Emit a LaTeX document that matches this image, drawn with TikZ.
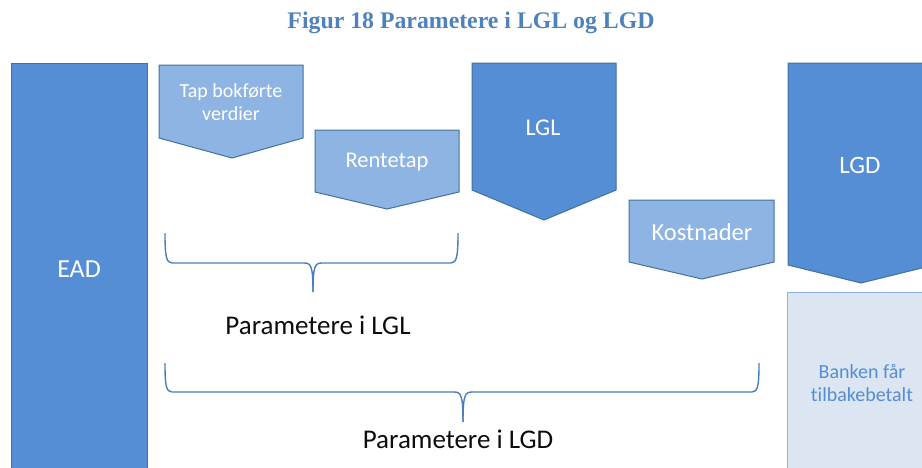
\documentclass[tikz,border=0pt]{standalone}
\usepackage{fontspec}
\setmainfont{Carlito}[Ligatures=NoCommon]
\newfontfamily\tnrfont{Liberation Serif}
\definecolor{darkfill}{RGB}{85,142,213}
\definecolor{lightfill}{RGB}{142,180,227}
\definecolor{shapeline}{RGB}{65,113,156}
\definecolor{paleback}{RGB}{220,230,242}
\definecolor{paleline}{RGB}{142,180,227}
\definecolor{bracecol}{RGB}{74,126,187}
\definecolor{titlecol}{RGB}{79,129,189}
\definecolor{txtdark}{RGB}{13,13,13}
\tikzset{
  darkshape/.style={fill=darkfill, draw=shapeline, line width=1pt},
  lightshape/.style={fill=lightfill, draw=shapeline, line width=1pt},
  wlabel/.style={text=white, inner sep=0pt, align=center},
  bracestyle/.style={draw=bracecol, line width=1.4pt, line join=round},
}
\begin{document}
\begin{tikzpicture}[x=1pt,y=-1pt]
\useasboundingbox (0,0) rectangle (922,467);
\clip (0,0) rectangle (922,467);
% title
\node[text=titlecol, inner sep=0pt] (title) at (471,23) {\tnrfont\bfseries\fontsize{23.8}{26}\selectfont Figur 18 Parametere i LGL og LGD};
% EAD
\path[darkshape] (11,63) rectangle (147,472);
\node[wlabel, font=\fontsize{26}{30}\selectfont] (ead) at (79,269) {EAD};
% Tap bokførte verdier
\path[lightshape] (159,65) -- (303,65) -- (303,138) -- (232,158) -- (159,138) -- cycle;
\node[wlabel, font=\fontsize{20}{22.5}\selectfont] (tap) at (231,102) {Tap bokførte\\verdier};
% Rentetap
\path[lightshape] (315,130) -- (459,130) -- (459,192) -- (387,209) -- (315,192) -- cycle;
\node[wlabel, font=\fontsize{22.5}{26}\selectfont] (rente) at (387,162) {Rentetap};
% LGL
\path[darkshape] (472,63) -- (616,63) -- (616,190) -- (544,220) -- (472,190) -- cycle;
\node[wlabel, font=\fontsize{24}{28}\selectfont] (lgl) at (543,128) {LGL};
% Kostnader
\path[lightshape] (629,200) -- (774,200) -- (774,262) -- (702,279) -- (629,262) -- cycle;
\node[wlabel, font=\fontsize{24.5}{28}\selectfont] (kost) at (702,232) {Kostnader};
% LGD
\path[darkshape] (788,63) -- (934,63) -- (934,265) -- (861,283) -- (788,265) -- cycle;
\node[wlabel, font=\fontsize{25}{28}\selectfont] (lgd) at (860,165) {LGD};
% Banken får tilbakebetalt
\path[fill=paleback, draw=paleline, line width=1pt] (787,292) rectangle (940,472);
\node[text=darkfill, inner sep=0pt, align=center, font=\fontsize{20}{23}\selectfont] (bank) at (862,383) {Banken får\\tilbakebetalt};
% brace LGL
\coordinate (bl1) at (165,233);
\coordinate (bl2) at (458,233);
\coordinate (blm) at (313,292);
\path[bracestyle] (bl1) .. controls (165,255) and (166,263) .. (172,263) -- (304,263) .. controls (311,263) and (313,266) .. (blm);
\path[bracestyle] (bl2) .. controls (458,255) and (457,263) .. (451,263) -- (322,263) .. controls (315,263) and (313,266) .. (blm);
\node[text=txtdark, inner sep=0pt, font=\fontsize{27}{30}\selectfont] (plgl) at (318,325) {Parametere i LGL};
% brace LGD
\coordinate (bd1) at (165,363);
\coordinate (bd2) at (759,363);
\coordinate (bdm) at (463,422);
\path[bracestyle] (bd1) .. controls (165,385) and (166,392) .. (172,392) -- (454,392) .. controls (461,392) and (463,395) .. (bdm);
\path[bracestyle] (bd2) .. controls (759,385) and (758,392) .. (752,392) -- (472,392) .. controls (465,392) and (463,395) .. (bdm);
\node[text=txtdark, inner sep=0pt, font=\fontsize{27}{30}\selectfont] (plgd) at (458,439) {Parametere i LGD};
\end{tikzpicture}
\end{document}
